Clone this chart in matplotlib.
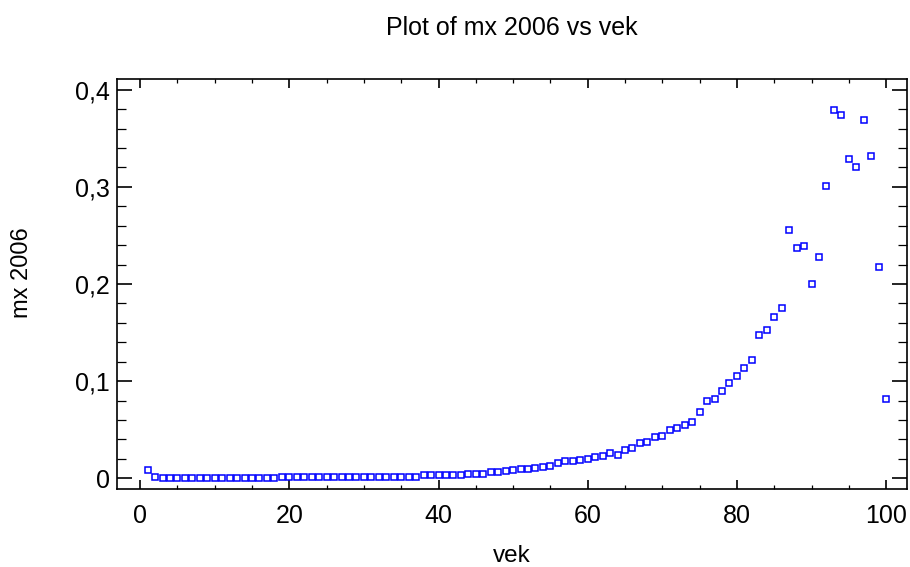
import matplotlib
matplotlib.use("Agg")
import matplotlib.pyplot as plt
from matplotlib.ticker import MultipleLocator, FuncFormatter

plt.rcParams['font.family'] = ['Liberation Sans', 'DejaVu Sans']

# age (years)
vek = list(range(1, 101))

# central death rate by age, 2006
mx_2006 = [
    0.0082, 0.0018, 0.0004, 0.0003, 0.0003, 0.0003, 0.0002, 0.0002, 0.0002, 0.0002,
    0.0002, 0.0002, 0.0003, 0.0003, 0.0003, 0.0004, 0.0004, 0.0005, 0.0012, 0.0012,
    0.0012, 0.0012, 0.0012, 0.0012, 0.0012, 0.0012, 0.0012, 0.0012, 0.0012, 0.0012,
    0.0012, 0.0013, 0.0013, 0.0013, 0.0013, 0.0014, 0.0014, 0.0030, 0.0030, 0.0031,
    0.0031, 0.0032, 0.0032, 0.0047, 0.0047, 0.0048, 0.0064, 0.0066, 0.0080, 0.0081,
    0.0095, 0.0097, 0.0110, 0.0112, 0.0130, 0.0154, 0.0176, 0.0178, 0.0186, 0.0196,
    0.0224, 0.0226, 0.0260, 0.0245, 0.0295, 0.0310, 0.0360, 0.0374, 0.0425, 0.0439,
    0.0500, 0.0518, 0.0552, 0.0583, 0.0683, 0.0795, 0.0814, 0.0896, 0.0976, 0.1057,
    0.1139, 0.1218, 0.1479, 0.1527, 0.1658, 0.1756, 0.2553, 0.2372, 0.2390, 0.2001,
    0.2276, 0.3007, 0.3786, 0.3738, 0.3285, 0.3203, 0.3690, 0.3316, 0.2176, 0.0814,
]

x_ticks = [0, 20, 40, 60, 80, 100]
y_ticks = [0, 0.1, 0.2, 0.3, 0.4]

W, H = 910, 567
fig = plt.figure(figsize=(W / 100, H / 100), dpi=100)
L, R, T, B = 117, 907, 79, 489
ax = fig.add_axes([L / W, 1 - B / H, (R - L) / W, (B - T) / H])

ax.plot(vek, mx_2006, linestyle='none', marker='s', markersize=5.0,
        markerfacecolor='none', markeredgecolor='#0000ff', markeredgewidth=1.1)

ax.set_xlim(-3.1, 102.8)
ax.set_ylim(-0.011, 0.411)

ax.xaxis.set_minor_locator(MultipleLocator(5))
ax.yaxis.set_minor_locator(MultipleLocator(0.02))
ax.set_xticks(x_ticks)
ax.set_yticks(y_ticks)


def comma_fmt(v, pos):
    if abs(v) < 1e-9:
        return '0'
    return f'{v:.1f}'.replace('.', ',')


ax.yaxis.set_major_formatter(FuncFormatter(comma_fmt))

for s in ax.spines.values():
    s.set_linewidth(1.2)

ax.tick_params(axis='x', which='major', direction='in', length=6.5, width=1.2,
               top=True, bottom=True, labelsize=18, pad=11)
ax.tick_params(axis='x', which='minor', direction='in', length=3.2, width=0.9,
               top=True, bottom=True)
ax.tick_params(axis='y', which='major', direction='in', length=11, width=1.2,
               left=True, right=True, labelsize=18, pad=5)
ax.tick_params(axis='y', which='minor', direction='in', length=6.5, width=0.9,
               left=True, right=True)

ax.set_title('Plot of mx 2006 vs vek', fontsize=18, y=(B - 35) / (B - T),
             va='baseline', pad=0)
ax.set_xlabel('vek', fontsize=17.5, va='baseline')
ax.xaxis.set_label_coords(0.5, (B - 562) / (B - T))
ax.set_ylabel('mx 2006', fontsize=17, va='center')
ax.yaxis.set_label_coords((22 - L) / (R - L), (B - 273) / (B - T))

fig.savefig('out.png', dpi=100)
